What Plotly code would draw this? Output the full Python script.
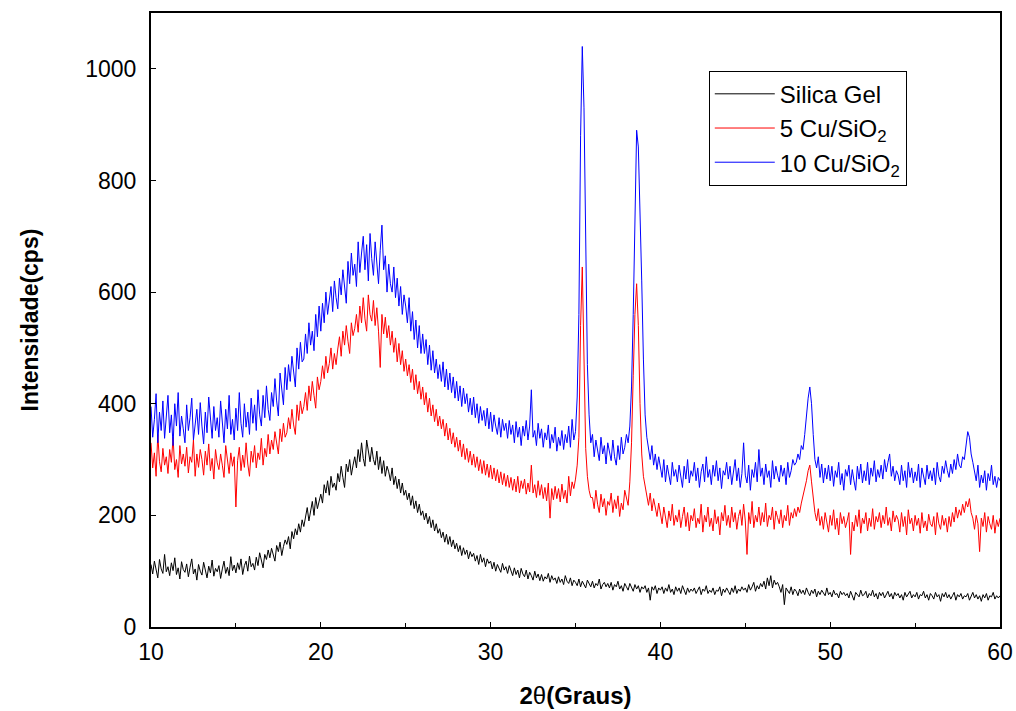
import numpy as np
import plotly.graph_objects as go

# 2-theta scan grid (0.1 degree steps from 10 to 60)
two_theta = np.round(np.arange(10.0, 60.001, 0.1), 1)

# one row per degree (x.0 ... x.9)
silica_gel = [
    112, 95, 118, 102, 88, 121, 104, 96, 130, 99,
    108, 92, 115, 101, 124, 94, 106, 86, 117, 103,
    98, 113, 90, 107, 122, 95, 104, 84, 112, 100,
    93, 116, 102, 88, 109, 97, 120, 91, 105, 99,
    110, 87, 104, 118, 96, 107, 92, 126, 101, 111,
    97, 115, 103, 122, 94, 110, 118, 100, 127, 108,
    114, 102, 125, 110, 133, 118, 106, 130, 121, 138,
    124, 141, 130, 118, 146, 135, 152, 128, 144, 156,
    148, 162, 140, 171, 158, 176, 165, 185, 170, 192,
    180, 198, 214, 190, 206, 225, 200, 232, 212, 228,
    238, 222, 255, 240, 262, 236, 270, 250, 258, 245,
    275, 260, 288, 268, 250, 292, 278, 300, 272, 290,
    305, 285, 318, 296, 330, 302, 288, 335, 310, 296,
    322, 300, 290, 315, 282, 305, 275, 298, 270, 288,
    278, 262, 285, 255, 270, 248, 265, 240, 258, 236,
    245, 228, 240, 218, 235, 212, 226, 205, 220, 200,
    208, 192, 204, 185, 198, 178, 192, 172, 185, 168,
    176, 160, 170, 152, 166, 148, 162, 144, 156, 140,
    150, 135, 146, 128, 142, 130, 138, 122, 135, 126,
    132, 118, 128, 112, 130, 116, 124, 108, 122, 114,
    118, 104, 116, 100, 112, 106, 98, 114, 102, 108,
    96, 110, 100, 92, 106, 94, 102, 88, 105, 95,
    90, 102, 86, 98, 92, 84, 100, 88, 95, 83,
    94, 82, 90, 86, 96, 80, 92, 84, 88, 78,
    90, 80, 86, 76, 92, 82, 78, 88, 74, 84,
    80, 74, 86, 72, 82, 76, 70, 84, 78, 72,
    82, 70, 78, 74, 86, 68, 76, 80, 72, 78,
    70, 80, 66, 76, 72, 82, 68, 74, 64, 78,
    72, 66, 78, 70, 64, 76, 68, 74, 62, 72,
    68, 74, 62, 70, 48, 72, 66, 74, 60, 70,
    66, 72, 60, 70, 64, 76, 62, 68, 58, 72,
    64, 70, 60, 74, 66, 58, 70, 62, 68, 64,
    70, 60, 66, 72, 58, 68, 64, 74, 60, 66,
    62, 70, 58, 66, 64, 72, 56, 68, 62, 70,
    64, 58, 70, 62, 74, 60, 68, 64, 72, 66,
    70, 62, 76, 66, 72, 80, 64, 74, 68, 78,
    72, 82, 68, 88, 74, 92, 70, 84, 76, 80,
    72, 62, 76, 40, 70, 64, 60, 72, 58, 68,
    64, 56, 68, 60, 66, 58, 70, 62, 56, 66,
    60, 68, 54, 64, 58, 66, 62, 56, 70, 58,
    62, 54, 66, 58, 60, 52, 64, 58, 62, 56,
    60, 52, 64, 56, 48, 62, 58, 54, 66, 56,
    58, 64, 52, 60, 56, 66, 54, 60, 50, 62,
    56, 62, 52, 58, 64, 54, 60, 50, 62, 56,
    60, 52, 58, 48, 62, 54, 58, 64, 52, 58,
    54, 62, 50, 58, 56, 64, 52, 58, 48, 60,
    56, 50, 62, 54, 58, 46, 60, 54, 62, 52,
    58, 50, 56, 62, 48, 58, 54, 60, 50, 56,
    54, 60, 48, 56, 62, 52, 58, 50, 56, 46,
    58, 52, 60, 48, 56, 54, 62, 50, 56, 52,
    56,
]

cu5_sio2 = [
    330, 285, 312, 270, 345, 296, 278, 320, 290, 305,
    275, 318, 295, 340, 282, 300, 268, 325, 292, 310,
    288, 322, 276, 305, 295, 335, 270, 310, 286, 318,
    300, 272, 315, 290, 328, 280, 302, 265, 318, 294,
    282, 310, 290, 268, 325, 296, 275, 312, 288, 305,
    215, 298, 322, 280, 308, 286, 330, 292, 270, 315,
    295, 325, 285, 312, 300, 338, 290, 320, 305, 345,
    310, 335, 318, 350, 325, 310, 355, 332, 365, 340,
    348, 375, 355, 390, 362, 345, 398, 370, 405, 382,
    395, 420, 388, 432, 405, 440, 415, 392, 448, 425,
    440, 468, 445, 485, 455, 472, 500, 462, 490, 470,
    498, 520, 485, 530, 505, 540, 512, 490, 545, 522,
    535, 560, 528, 575, 545, 590, 552, 530, 595, 560,
    548, 585, 540, 572, 530, 465, 560, 525, 555, 518,
    540, 505, 530, 492, 518, 475, 508, 470, 495, 458,
    480, 450, 470, 438, 462, 425, 452, 418, 440, 408,
    430, 398, 420, 385, 410, 378, 398, 368, 390, 360,
    378, 355, 372, 342, 365, 335, 356, 328, 348, 322,
    340, 315, 335, 305, 328, 300, 320, 295, 315, 290,
    310, 286, 305, 280, 300, 275, 298, 272, 292, 268,
    290, 265, 285, 262, 282, 258, 278, 255, 275, 252,
    272, 250, 268, 245, 265, 242, 270, 240, 262, 248,
    265, 238, 258, 242, 290, 240, 255, 232, 262, 236,
    255, 230, 250, 226, 258, 195, 248, 228, 252, 230,
    248, 224, 256, 230, 245, 222, 270, 235, 260, 248,
    265, 290, 340, 540, 645, 440, 320, 270, 245, 232,
    232, 212, 245, 220, 205, 238, 215, 230, 200, 225,
    218, 240, 205, 228, 212, 235, 198, 222, 210, 245,
    230, 218, 260, 330, 450, 560, 615, 540, 400, 310,
    270, 250, 235, 218, 240, 208, 230, 215, 198, 222,
    205, 185, 215, 192, 178, 208, 190, 220, 182, 200,
    188, 210, 178, 198, 215, 180, 205, 172, 200, 190,
    212, 178, 195, 185, 220, 170, 200, 188, 215, 180,
    195, 172, 210, 185, 198, 165, 205, 190, 218, 182,
    200, 178, 215, 188, 205, 175, 198, 210, 182, 220,
    190, 130, 205, 185, 225, 178, 200, 188, 215, 182,
    205, 188, 222, 180, 200, 192, 215, 175, 208, 196,
    185, 210, 178, 200, 190, 218, 182, 205, 195, 212,
    198, 215, 205, 222, 235, 248, 262, 280, 290, 260,
    230, 205, 190, 212, 182, 198, 175, 205, 188, 170,
    200, 182, 210, 175, 195, 165, 205, 185, 198, 178,
    190, 205, 130, 188, 172, 200, 180, 210, 168, 195,
    185, 205, 172, 195, 180, 212, 175, 198, 188, 205,
    178, 200, 185, 215, 182, 196, 172, 208, 188, 200,
    192, 170, 205, 180, 198, 165, 210, 185, 195, 172,
    200, 182, 195, 168, 205, 178, 190, 172, 202, 185,
    180, 198, 165, 205, 185, 175, 200, 182, 195, 170,
    198, 180, 205, 188, 215, 195, 210, 200, 220, 205,
    225, 215, 230, 205, 195, 175, 200, 185, 135, 195,
    180, 205, 170, 198, 185, 175, 200, 168, 192, 180,
    195,
]

cu10_sio2 = [
    395, 340, 372, 418, 330, 385, 352, 405, 338, 370,
    415, 348, 380, 325, 400, 360, 420, 342, 378, 355,
    330, 398, 352, 375, 410, 335, 368, 390, 345, 402,
    360, 328, 385, 348, 412, 365, 338, 395, 352, 375,
    340, 405, 362, 330, 390, 355, 415, 345, 372, 335,
    392, 352, 420, 365, 340, 400, 358, 385, 345, 410,
    365, 398, 352, 425, 380, 360, 415, 375, 432, 390,
    370, 420, 395, 445, 405, 378, 455, 420, 398, 465,
    425, 470, 440, 485, 455, 430, 500, 462, 510, 475,
    480, 525, 490, 545, 505, 530, 495, 560, 520, 575,
    530, 580, 545, 600, 560, 585, 610, 565, 620, 590,
    570, 625, 595, 640, 605, 580, 655, 615, 670, 630,
    650, 610, 690, 635, 670, 700, 640, 685, 620, 705,
    660, 630, 690, 645, 615, 675, 720, 640, 665, 600,
    650, 615, 600, 645, 590, 625, 575, 610, 560, 595,
    575, 545, 590, 530, 565, 515, 550, 500, 540, 490,
    525, 490, 515, 470, 505, 460, 495, 455, 480, 445,
    470, 440, 475, 430, 462, 425, 455, 420, 448, 410,
    440, 405, 432, 395, 428, 400, 418, 385, 410, 380,
    412, 375, 400, 365, 395, 370, 388, 360, 392, 355,
    385, 350, 380, 360, 345, 375, 340, 372, 352, 365,
    338, 370, 345, 362, 330, 368, 340, 358, 325, 360,
    342, 370, 335, 360, 425, 340, 352, 325, 365, 338,
    355, 322, 348, 335, 362, 320, 345, 330, 358, 315,
    340, 325, 352, 318, 345, 330, 360, 322, 372, 335,
    350, 412, 560, 880, 1040, 930, 720, 470, 380, 330,
    345, 305, 335, 318, 298, 340, 310, 325, 292, 330,
    315, 298, 335, 305, 290, 325, 300, 340, 310, 322,
    345, 330, 360, 430, 560, 720, 890, 860, 760, 620,
    480, 380, 340, 318, 300, 325, 290, 310, 282, 305,
    285, 268, 300, 260, 290, 275, 255, 295, 270, 282,
    260, 290, 272, 250, 288, 265, 300, 258, 280, 270,
    295, 262, 285, 250, 278, 292, 260, 305, 268, 282,
    255, 290, 270, 298, 262, 285, 248, 280, 272, 295,
    265, 288, 255, 278, 300, 262, 285, 250, 275, 330,
    272, 258, 290, 245, 282, 268, 295, 260, 318, 270,
    285, 255, 292, 268, 280, 250, 298, 265, 288, 272,
    260, 290, 270, 285, 255, 295, 268, 280, 300, 290,
    295, 310, 300, 325, 318, 345, 380, 410, 430, 400,
    345, 300, 285, 305, 268, 292, 258, 285, 265, 290,
    262, 288, 252, 280, 268, 295, 255, 275, 245, 282,
    270, 290, 255, 282, 262, 245, 288, 265, 292, 258,
    280, 262, 295, 255, 285, 270, 298, 260, 282, 268,
    290, 265, 300, 278, 295, 310, 270, 288, 262, 280,
    272, 255, 290, 262, 280, 250, 295, 268, 285, 258,
    278, 262, 292, 250, 285, 270, 255, 290, 265, 280,
    262, 285, 255, 295, 270, 260, 288, 275, 298, 280,
    268, 292, 275, 300, 282, 310, 290, 285, 305, 300,
    325, 350, 340, 310, 295, 278, 262, 290, 250, 272,
    258, 280, 245, 275, 262, 290, 255, 270, 250, 268,
    262,
]

series_names = ["Silica Gel", "5 Cu/SiO<sub>2</sub>", "10 Cu/SiO<sub>2</sub>"]
series_colors = ["#000000", "#ff0000", "#0000ff"]

FONT = "Liberation Sans, Arial, sans-serif"

fig = go.Figure()
for name, values, color in zip(series_names, [silica_gel, cu5_sio2, cu10_sio2], series_colors):
    fig.add_trace(
        go.Scatter(
            x=two_theta,
            y=values,
            mode="lines",
            name=name,
            line=dict(color=color, width=1),
        )
    )

axis_common = dict(
    showline=True,
    linecolor="#000000",
    linewidth=2,
    mirror=True,
    ticks="inside",
    tickcolor="#000000",
    ticklen=5,
    showgrid=False,
    zeroline=False,
    automargin=False,
    tickfont=dict(family=FONT, size=23, color="#000000"),
)

fig.update_layout(
    width=1016,
    height=711,
    margin=dict(l=151, r=16, t=13, b=84),
    paper_bgcolor="#ffffff",
    plot_bgcolor="#ffffff",
    font=dict(family=FONT, color="#000000"),
    showlegend=True,
    legend=dict(
        x=0.657,
        y=0.906,
        xanchor="left",
        yanchor="top",
        bgcolor="#ffffff",
        bordercolor="#000000",
        borderwidth=1,
        itemwidth=60,
        font=dict(family=FONT, size=24, color="#000000"),
    ),
    xaxis=dict(
        range=[10, 60],
        tickvals=[10, 20, 30, 40, 50, 60],
        ticklabelstandoff=3,
        minor=dict(ticks="inside", tickvals=[15, 25, 35, 45, 55], ticklen=4, tickcolor="#000000"),
        title=dict(
            text="<b>2</b>θ<b>(Graus)</b>",
            font=dict(family=FONT, size=24, color="#000000"),
            standoff=24,
        ),
        **axis_common,
    ),
    yaxis=dict(
        range=[0, 1100],
        tickvals=[0, 200, 400, 600, 800, 1000],
        ticklabelstandoff=8,
        title=dict(
            text="<b>Intensidade(cps)</b>",
            font=dict(family=FONT, size=23, color="#000000"),
            standoff=40,
        ),
        **axis_common,
    ),
)

# the page's default body margin would push the figure 8px off the window
fig.write_html(
    "out.html",
    config={"displayModeBar": False},
    post_script="document.body.style.margin = '0';",
)
